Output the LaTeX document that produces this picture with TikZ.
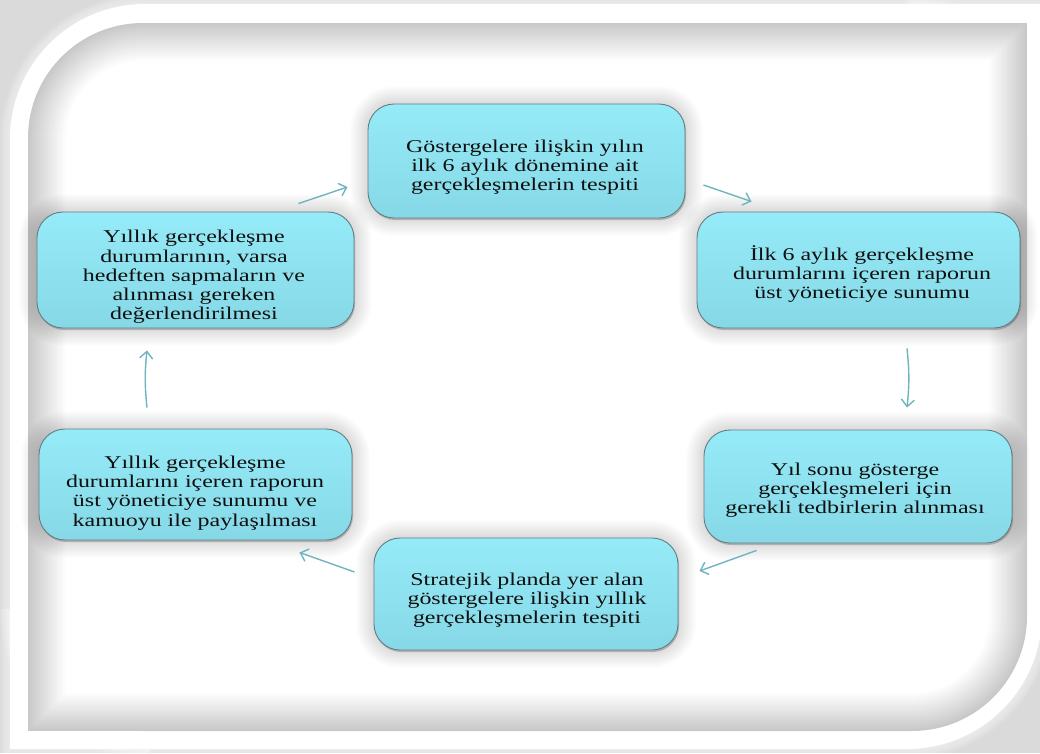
\documentclass[tikz,border=0pt]{standalone}
\usepackage{fontspec}
\setmainfont{Liberation Serif}[FakeStretch=1.33]
\usetikzlibrary{arrows.meta,calc}
\definecolor{bg}{RGB}{218,218,218}
\definecolor{panelgray}{RGB}{200,200,200}
\definecolor{boxtop}{RGB}{150,235,248}
\definecolor{boxbot}{RGB}{134,216,230}
\definecolor{boxline}{RGB}{100,125,132}
\definecolor{arrowc}{RGB}{112,180,192}
\definecolor{txt}{RGB}{15,15,15}
\tikzset{
  stepbox/.style={rectangle, rounded corners=26pt, top color=boxtop, bottom color=boxbot,
    draw=boxline, line width=0.9pt, inner sep=0pt},
  lbl/.style={align=center, font=\fontsize{18}{19.3}\selectfont, text=txt, inner sep=0pt},
  flow/.style={draw=arrowc, line width=1.4pt, -{Straight Barb[length=7pt,width=13pt]}},
}
\newcommand\boxglow[4]{%
  \foreach \d in {18,17,...,1}{%
    \pgfmathsetmacro\rr{26+\d}%
    \fill[black,opacity=0.008,rounded corners=\rr pt] ({#1-\d},{#2-\d}) rectangle ({#3+\d},{#4+\d});
  }%
  \fill[black,opacity=0.2,rounded corners=26pt] ({#1+1},{#2+2}) rectangle ({#3+1},{#4+2});
}
\begin{document}
\begin{tikzpicture}[x=1pt,y=-1pt]
\useasboundingbox (0,0) rectangle (1040,753);
\fill[bg] (0,0) rectangle (1040,753);
% soft edge of the white frame
\foreach \d in {10,9,...,1}{%
  \pgfmathsetmacro\rr{135+\d}
  \fill[white,opacity=0.07,rounded corners=\rr pt] ({10-\d},{4-\d}) rectangle ({1042+\d},{749+\d});
  \fill[white,opacity=0.07] ({1042+\d-140},{4-\d}) rectangle ({1042+\d},{4+140});
  \fill[white,opacity=0.07] ({10-\d},{749-140}) rectangle ({10+140},{749+\d});
}
% white frame
\fill[white,rounded corners=135pt] (10,4) rectangle (1042,749);
\fill[white] (1042-140,4) rectangle (1042,4+140);
\fill[white] (10,749-140) rectangle (10+140,749);
% inner panel with inset shadow
\foreach \d in {0,...,40}{%
  \pgfmathsetmacro\p{min(100,\d*100/38)}
  \pgfmathsetmacro\rr{max(1,115-\d)}
  \fill[white!\p!panelgray, rounded corners=\rr pt] ({28+\d},{23+\d}) rectangle ({1027-\d},{731-\d});
  \fill[white!\p!panelgray] ({1027-\d-120},{23+\d}) rectangle ({1027-\d},{23+\d+120});
  \fill[white!\p!panelgray] ({28+\d},{731-\d-120}) rectangle ({28+\d+120},{731-\d});
}
% glows
\boxglow{368}{104}{685}{218}
\boxglow{697}{212}{1020}{328}
\boxglow{704}{430}{1012}{543}
\boxglow{374}{538}{678}{650}
\boxglow{39}{429}{352}{540}
\boxglow{37}{212}{354}{328}
% boxes
\node[stepbox, minimum width=317pt, minimum height=114pt] (b1) at (526.5,161) {};
\node[stepbox, minimum width=323pt, minimum height=116pt] (b2) at (858.5,270) {};
\node[stepbox, minimum width=308pt, minimum height=113pt] (b3) at (858,486.5) {};
\node[stepbox, minimum width=304pt, minimum height=112pt] (b4) at (526,594) {};
\node[stepbox, minimum width=313pt, minimum height=111pt] (b5) at (195.5,484.5) {};
\node[stepbox, minimum width=317pt, minimum height=116pt] (b6) at (195.5,270) {};
% texts
\node[lbl] (t1) at (525,167) {Göstergelere ilişkin yılın\\ilk 6 aylık dönemine ait\\gerçekleşmelerin tespiti};
\node[lbl] (t2) at (862,274) {İlk 6 aylık  gerçekleşme\\durumlarını içeren raporun\\üst yöneticiye  sunumu};
\node[lbl] (t3) at (855,490) {Yıl sonu gösterge\\gerçekleşmeleri için\\gerekli tedbirlerin alınması};
\node[lbl] (t4) at (527,600) {Stratejik planda yer alan\\göstergelere ilişkin yıllık\\gerçekleşmelerin tespiti};
\node[lbl] (t5) at (195,493) {Yıllık gerçekleşme\\durumlarını içeren raporun\\üst yöneticiye  sunumu ve\\kamuoyu ile paylaşılması};
\node[lbl] (t6) at (194,277) {Yıllık gerçekleşme\\durumlarının, varsa\\hedeften sapmaların ve\\alınması gereken\\değerlendirilmesi};
% arrows
\draw[flow] ($(b6.north east)+(-56,-8)$) -- ($(b1.west)+(-20,26)$);
\draw[flow] ($(b1.east)+(18,24)$) -- ($(b2.north west)+(55,-10)$);
\draw[flow] ($(b2.south)+(48.5,20)$) to[bend left=6] ($(b3.north)+(49,-22)$);
\draw[flow] ($(b3.south west)+(53,7)$) -- ($(b4.east)+(21,-23)$);
\draw[flow] ($(b4.west)+(-19,-22)$) -- ($(b5.south east)+(-53,12)$);
\draw[flow] ($(b5.north)+(-48.5,-21)$) to[bend left=6] ($(b6.south)+(-48.5,22)$);
\end{tikzpicture}
\end{document}
